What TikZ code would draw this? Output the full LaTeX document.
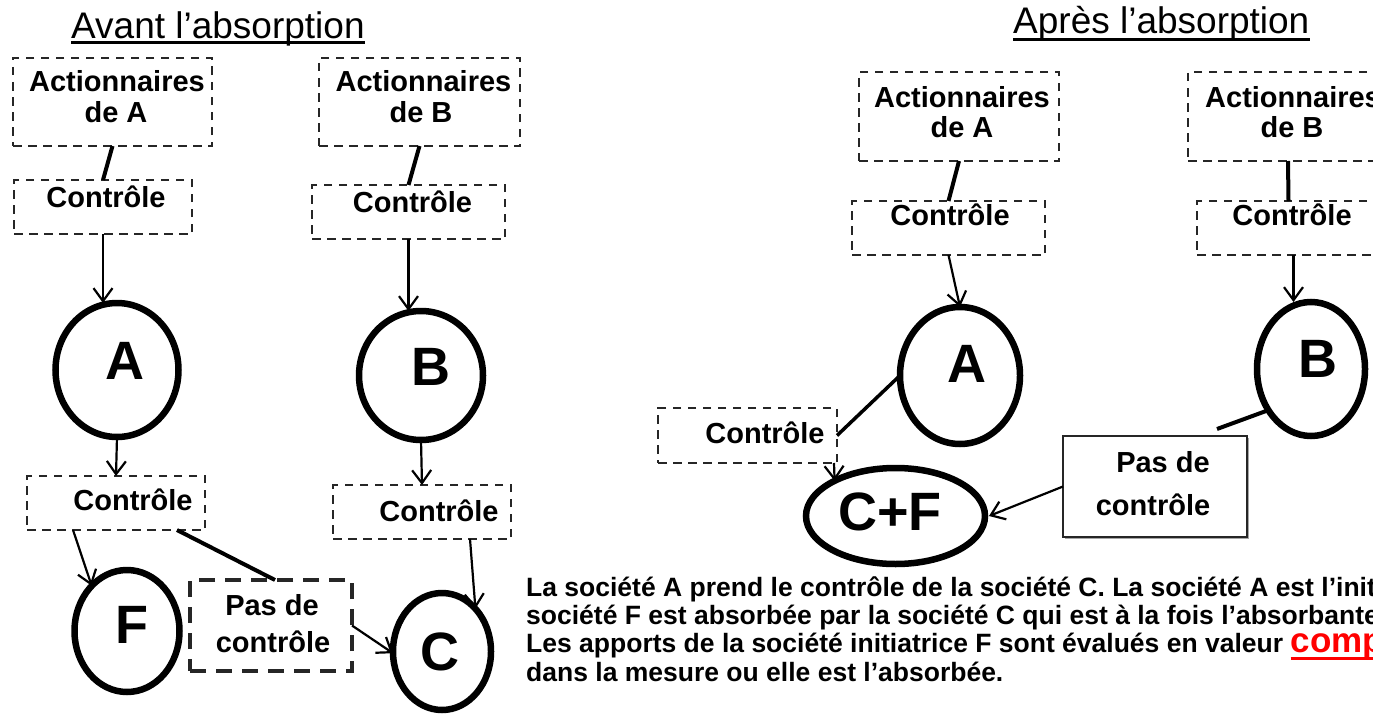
\documentclass[tikz,border=0pt]{standalone}
\usepackage{fontspec}
\setmainfont{Liberation Sans}
\usetikzlibrary{arrows.meta,shapes.geometric,shadows}
\newcommand\ulredword[1]{\setbox0\hbox{#1}\rlap{\rule[-7.5pt]{\wd0}{3.5pt}}\box0}
\begin{document}
\begin{tikzpicture}[x=1pt,y=-1pt,
  dbox/.style={draw=black!85, line width=1.9pt, dash pattern=on 8.5pt off 6.5pt, inner sep=0pt, outer sep=0pt},
  tbold/.style={font=\bfseries\fontsize{29}{33}\selectfont, inner sep=0pt, anchor=base},
  big/.style={font=\bfseries\fontsize{54}{60}\selectfont, inner sep=0pt},
  circ/.style={ellipse, draw, line width=6.5pt, inner sep=0pt, outer sep=0pt},
  arr/.style={line width=2.2pt, -{Straight Barb[length=13pt,width=19pt]}},
  tick/.style={line width=4pt},
  ttl/.style={font=\fontsize{37}{44}\selectfont, inner sep=0pt, anchor=base west},
  btxt/.style={font=\bfseries\fontsize{26.5}{30}\selectfont, inner sep=0pt, anchor=base west}
]
\useasboundingbox (0,0) rectangle (1373,717);
\clip (0,0) rectangle (1373,717);
\fill[white] (0,0) rectangle (1373,717);

% ---------- Avant ----------
\node[ttl] (title1) at (71,38.5) {Avant l’absorption};
\draw[line width=3pt] ([yshift=-4.5pt]title1.base west) -- ([yshift=-4.5pt]title1.base east);

\node[dbox, minimum width=199pt, minimum height=88pt] (actA1) at (112.5,102) {};
\node[tbold] (actA1t1) at (117,92) {Actionnaires};
\node[tbold] (actA1t2) at (116,122) {de A};
\node[dbox, minimum width=178pt, minimum height=54pt] (ctrlA1) at (103,207) {};
\node[tbold] (ctrlA1t) at (106,207) {Contrôle};
\draw[tick] (actA1.south) -- (ctrlA1.north);

\node[circ, minimum width=123pt, minimum height=134pt] (A1) at (117,370) {};
\node[big] (A1l) at (125,361) {A};
\draw[arr] (ctrlA1.south) -- (ctrlA1.south |- A1.north);

\node[dbox, minimum width=178pt, minimum height=54pt] (ctrlA2) at (116,503) {};
\node[tbold] (ctrlA2t) at (133,510) {Contrôle};
\draw[arr] (A1.south) -- (ctrlA2.north);

\node[circ, minimum width=105pt, minimum height=122pt] (F1) at (127,631) {};
\node[big] (F1l) at (132,625) {F};
\draw[arr] ([xshift=46pt]ctrlA2.south west) -- (F1.128);

\node[dbox, line width=4pt, dash pattern=on 16pt off 10pt, minimum width=162pt, minimum height=91pt] (pdcL) at (271,625.5) {};
\node[tbold] (pdcLt1) at (272,615) {Pas de};
\node[tbold] (pdcLt2) at (273,652) {contrôle};
\draw[tick] ([xshift=-28pt]ctrlA2.south east) -- ([xshift=4pt]pdcL.north);

\node[circ, minimum width=98pt, minimum height=117pt] (C1) at (442,651.5) {};
\node[big] (C1l) at (440,652) {C};
\draw[arr] (pdcL.east) -- (C1.182);

\node[dbox, minimum width=201pt, minimum height=88pt] (actB1) at (419.5,102) {};
\node[tbold] (actB1t1) at (423.5,92) {Actionnaires};
\node[tbold] (actB1t2) at (421,122) {de B};
\node[dbox, minimum width=193pt, minimum height=54pt] (ctrlB1) at (408.5,212) {};
\node[tbold] (ctrlB1t) at (412.5,212) {Contrôle};
\draw[tick] (actB1.south) -- (ctrlB1.north);

\node[circ, minimum width=124pt, minimum height=129pt] (B1) at (421,375.5) {};
\node[big] (B1l) at (431,367) {B};
\draw[arr] (ctrlB1.south) -- (ctrlB1.south |- B1.north);

\node[dbox, minimum width=178pt, minimum height=54pt] (ctrlB2) at (422,512) {};
\node[tbold] (ctrlB2t) at (439,521) {Contrôle};
\draw[arr] (B1.south) -- (ctrlB2.north);
\draw[arr] ([xshift=-41pt]ctrlB2.south east) -- (C1.52);

% ---------- Apres ----------
\node[ttl] (title2) at (1013,34) {Après l’absorption};
\draw[line width=3pt] ([yshift=-5.5pt]title2.base west) -- ([yshift=-5.5pt]title2.base east);

\node[dbox, minimum width=200pt, minimum height=89pt] (actA2) at (959,116.5) {};
\node[tbold] (actA2t1) at (962,107) {Actionnaires};
\node[tbold] (actA2t2) at (962,137) {de A};
\node[dbox, minimum width=193pt, minimum height=54pt] (ctrlA3) at (948.5,228) {};
\node[tbold] (ctrlA3t) at (950,225) {Contrôle};
\draw[tick] (actA2.south) -- (ctrlA3.north);

\node[circ, minimum width=120pt, minimum height=137pt] (A3) at (960,375.5) {};
\node[big] (A3l) at (967,364) {A};
\draw[arr] (ctrlA3.south) -- (A3.north);

\node[dbox, minimum width=210pt, minimum height=89pt] (actB2) at (1293,116.5) {};
\node[tbold] (actB2t1) at (1293,107) {Actionnaires};
\node[tbold] (actB2t2) at (1292,137) {de B};
\node[dbox, minimum width=193pt, minimum height=54pt] (ctrlB3) at (1293.5,228) {};
\node[tbold] (ctrlB3t) at (1292,225) {Contrôle};
\draw[tick] ([xshift=-5pt]actB2.south) -- ([xshift=-5pt]ctrlB3.north);

\node[circ, minimum width=108pt, minimum height=134pt] (B2) at (1311,369) {};
\node[big] (B2l) at (1318,359) {B};
\draw[arr] (ctrlB3.south) -- (ctrlB3.south |- B2.north);

\node[draw=black!85, line width=2pt, fill=white, inner sep=0pt, outer sep=0pt,
      minimum width=184pt, minimum height=101pt,
      drop shadow={shadow xshift=1.5pt, shadow yshift=-1.5pt, fill=black!35, opacity=1}] (pdcR) at (1155,486.5) {};
\node[tbold] (pdcRt1) at (1163,472) {Pas de};
\node[tbold] (pdcRt2) at (1153,515) {contrôle};
\coordinate (bEnd) at (1217,429);
\draw[tick] (B2.224) -- (bEnd);

\node[circ, minimum width=179pt, minimum height=96pt] (CF) at (895.5,516) {};
\node[big] (CFl) at (890,512) {C+F};
\draw[arr] (pdcR.west) -- ([xshift=4pt]CF.east);

\node[dbox, minimum width=179pt, minimum height=55pt] (ctrlC) at (747.5,435.5) {};
\node[tbold] (ctrlCt) at (765,443) {Contrôle};
\draw[line width=3.5pt] (ctrlC.east) -- (A3.west);
\draw[arr] ([xshift=-3pt]ctrlC.south east) -- (CF.150);

% ---------- Texte ----------
\node[btxt] (t1) at (526,596) {La société A prend le contrôle de la société C. La société A est l’init};
\node[btxt] (t2) at (526,624) {société F est absorbée par la société C qui est à la fois l’absorbante};
\node[btxt] (t3) at (526,652.5) {Les apports de la société initiatrice F sont évalués en valeur {\color{red}\fontsize{35}{40}\selectfont\ulredword{comp}}};
\node[btxt] (t4) at (526,681) {dans la mesure ou elle est l’absorbée.};
\end{tikzpicture}
\end{document}
